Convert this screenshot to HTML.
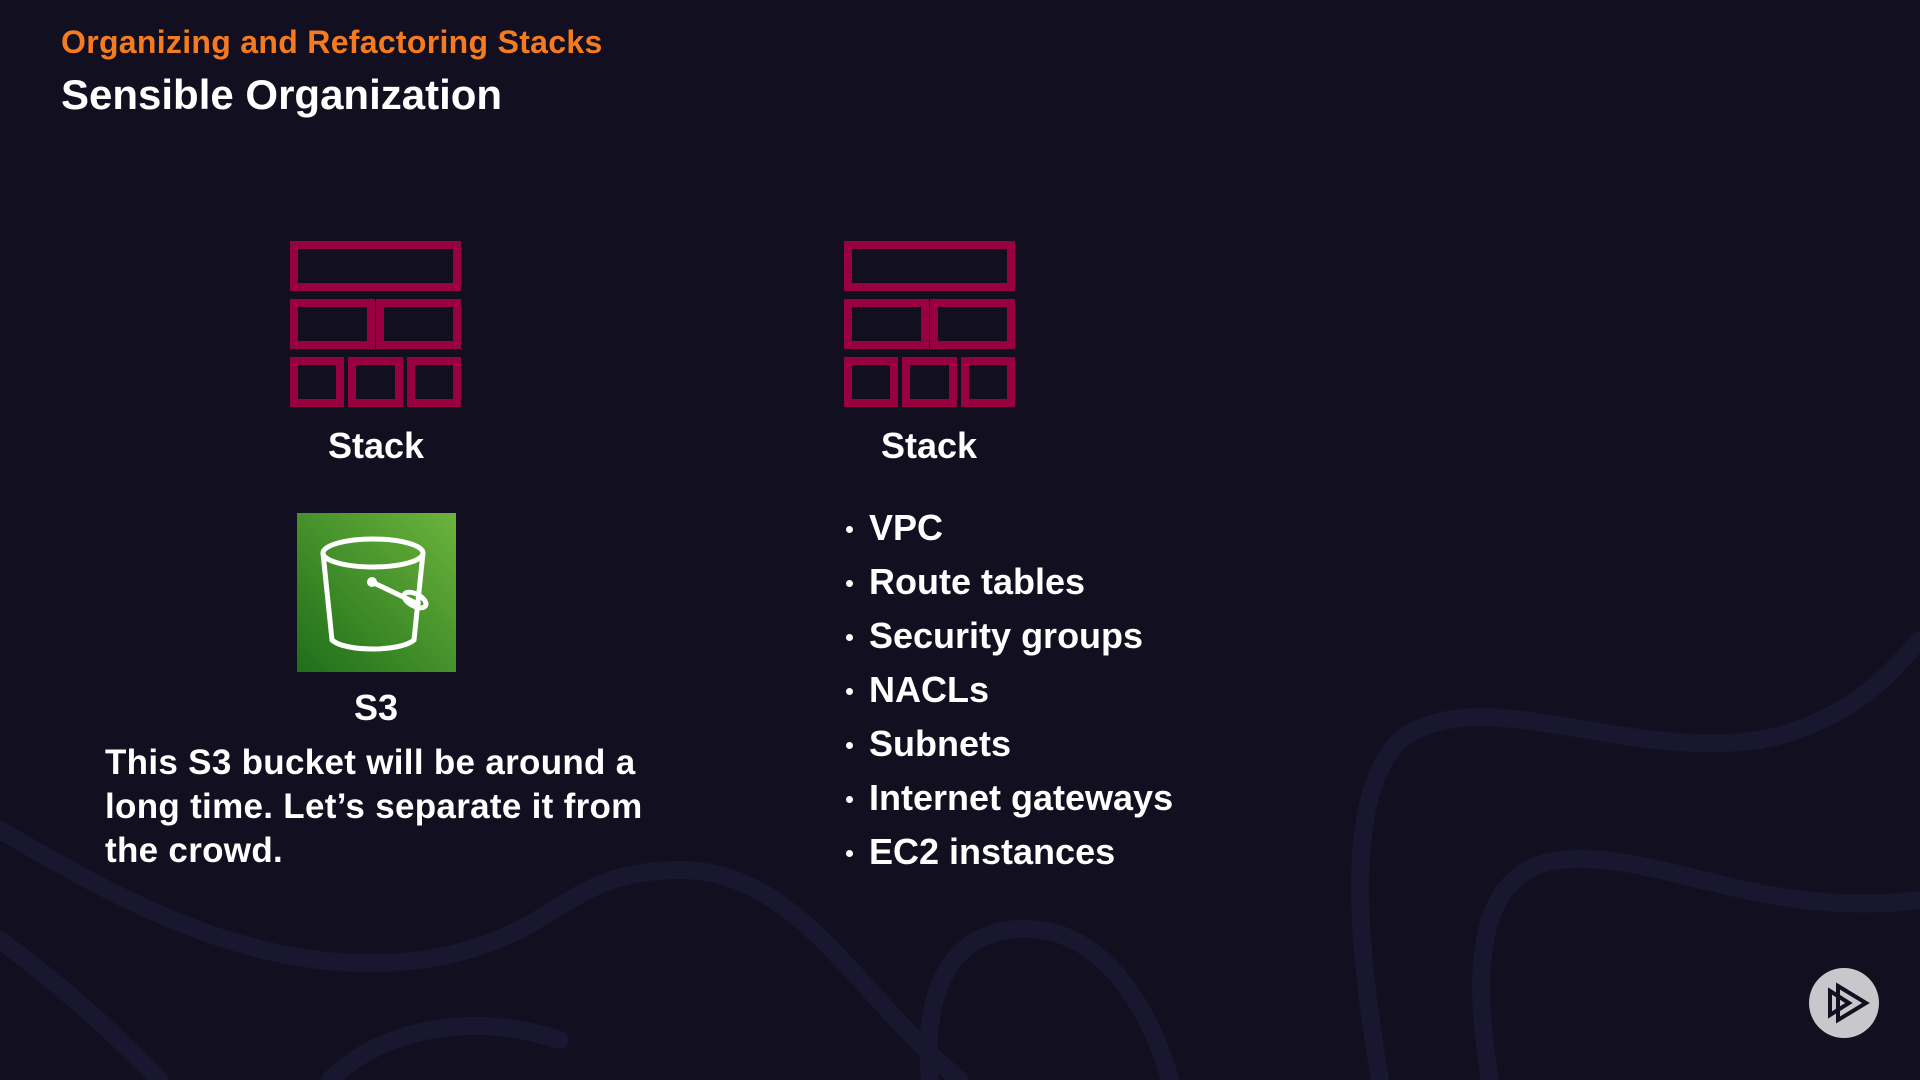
<!DOCTYPE html>
<html><head><meta charset="utf-8"><style>
html,body{margin:0;padding:0}
body{width:1920px;height:1080px;background:#121020;position:relative;overflow:hidden;font-family:"Liberation Sans",sans-serif;font-weight:bold;color:#fff}
.abs{position:absolute;white-space:nowrap}
.lbl{font-size:36px;text-align:center;width:300px}
ul{list-style:none;margin:0;padding:0}
li{height:54px;line-height:54px;position:relative;padding-left:27px}
li:before{content:"";position:absolute;left:4px;top:25px;width:7px;height:7px;border-radius:50%;background:#fff}
</style></head><body>
<svg class="abs" style="left:0;top:0" width="1920" height="1080">
 <g fill="none" stroke="#19162f" stroke-width="18" stroke-linecap="round">
  <path d="M0 830 C120 900 260 980 420 960 C560 940 560 870 680 870 C800 870 860 1000 960 1080"/>
  <path d="M0 940 C80 1000 120 1040 160 1080"/>
  <path d="M330 1080 C380 1030 470 1010 560 1040"/>
  <path d="M930 1080 C920 980 960 920 1040 930 C1120 940 1160 1040 1170 1080"/>
  <path d="M1380 1080 C1360 960 1340 800 1400 740 C1480 680 1620 760 1760 740 C1860 720 1900 660 1920 640"/>
  <path d="M1490 1080 C1470 960 1480 870 1560 860 C1660 850 1760 920 1920 900"/>
 </g>
 <g fill="none" stroke="#99003f" stroke-width="8">
  <rect x="294" y="245" width="163" height="42"/>
  <rect x="294" y="303" width="77" height="42"/><rect x="380" y="303" width="77" height="42"/>
  <rect x="294" y="361" width="46" height="42"/><rect x="352" y="361" width="47" height="42"/><rect x="411" y="361" width="46" height="42"/>
  <rect x="848" y="245" width="163" height="42"/>
  <rect x="848" y="303" width="77" height="42"/><rect x="934" y="303" width="77" height="42"/>
  <rect x="848" y="361" width="46" height="42"/><rect x="906" y="361" width="47" height="42"/><rect x="965" y="361" width="46" height="42"/>
 </g>
 <defs><linearGradient id="g" x1="0" y1="1" x2="1" y2="0"><stop offset="0" stop-color="#1f6e1a"/><stop offset="1" stop-color="#6cb43c"/></linearGradient></defs>
 <rect x="297" y="513" width="159" height="159" fill="url(#g)"/>
 <g fill="none" stroke="#fff" stroke-width="5">
  <ellipse cx="373" cy="553" rx="50" ry="14"/>
  <path d="M323 553 L332 640 C345 652 400 652 414 640 L423 553"/>
  <path d="M372 582 L420 605"/>
  <ellipse cx="415" cy="600" rx="12" ry="6" transform="rotate(28 415 600)"/>
 </g>
 <circle cx="372" cy="582" r="5" fill="#fff"/>
 <circle cx="1844" cy="1003" r="35" fill="#c8c8cc"/>
 <g fill="none" stroke="#121020" stroke-width="4" stroke-linejoin="miter">
  <path d="M1830 991 L1849 1003 L1830 1015 Z"/>
  <path d="M1838 986 L1866 1003 L1838 1020 Z"/>
 </g>
</svg>
<div class="abs" style="left:61px;top:24px;font-size:32px;letter-spacing:0.3px;color:#f47b20">Organizing and Refactoring Stacks</div>
<div class="abs" style="left:61px;top:71px;font-size:42px">Sensible Organization</div>
<div class="abs lbl" style="left:226px;top:425px">Stack</div>
<div class="abs lbl" style="left:779px;top:425px">Stack</div>
<div class="abs lbl" style="left:226px;top:687px">S3</div>
<div class="abs" style="left:105px;top:741px;font-size:35px;line-height:44px;letter-spacing:0.3px">This S3 bucket will be around a<br>long time. Let’s separate it from<br>the crowd.</div>
<div class="abs" style="left:842px;top:501px;font-size:36px">
<ul>
<li>VPC</li>
<li>Route tables</li>
<li>Security groups</li>
<li>NACLs</li>
<li>Subnets</li>
<li>Internet gateways</li>
<li>EC2 instances</li>
</ul></div>
</body></html>
